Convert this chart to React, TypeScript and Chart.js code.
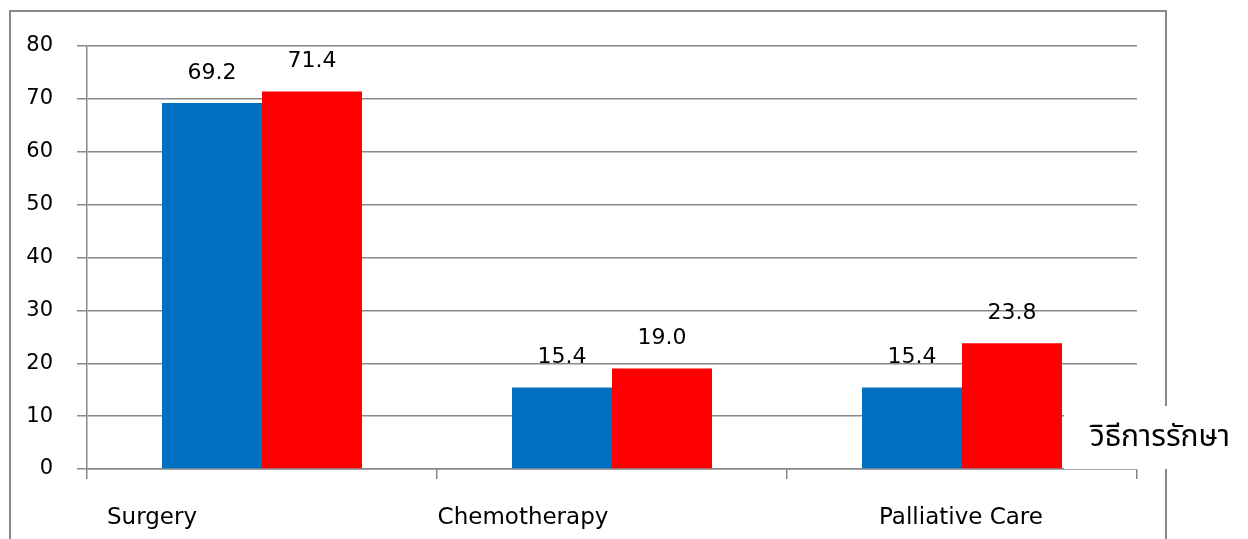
import React, { useEffect, useRef } from "react";
import { Chart, registerables } from "chart.js";

Chart.register(...registerables);

const categories = ["Surgery", "Chemotherapy", "Palliative Care"];
const seriesBlue = [69.2, 15.4, 15.4];
const seriesRed = [71.4, 19.0, 23.8];
const yTicks = [0, 10, 20, 30, 40, 50, 60, 70, 80];
const axisTitle = "วิธีการรักษา";

const FONT = "'DejaVu Sans', sans-serif";
const GRID = "#888888";

export default function App() {
  const ref = useRef<HTMLCanvasElement | null>(null);

  useEffect(() => {
    if (!ref.current) return;

    const labelShift = [-110, -89, -1];

    const decor = {
      id: "decor",
      afterDatasetsDraw(chart: any) {
        const ctx = chart.ctx;
        ctx.save();
        // value labels
        ctx.font = `22px ${FONT}`;
        ctx.fillStyle = "#000";
        ctx.textAlign = "center";
        ctx.textBaseline = "middle";
        chart.data.datasets.forEach((ds: any, di: number) => {
          const meta = chart.getDatasetMeta(di);
          meta.data.forEach((bar: any, i: number) => {
            ctx.fillText(Number(ds.data[i]).toFixed(1), bar.x, bar.y - 30);
          });
        });
        // category labels
        ctx.font = `23px ${FONT}`;
        ctx.textBaseline = "alphabetic";
        const xs = chart.scales.x;
        categories.forEach((c, i) => {
          ctx.fillText(c, xs.getPixelForValue(i) + labelShift[i], 524);
        });
        ctx.restore();
      },
      afterDraw(chart: any) {
        const ctx = chart.ctx;
        ctx.save();
        ctx.strokeStyle = GRID;
        ctx.lineWidth = 2;
        ctx.strokeRect(10, 11, 1156, 600);
        ctx.fillStyle = "#fff";
        ctx.fillRect(1064, 406, 184, 63);
        ctx.fillStyle = "#000";
        ctx.font = `30px 'Noto Sans Thai', 'Noto Sans', ${FONT}`;
        ctx.textAlign = "center";
        ctx.textBaseline = "middle";
        ctx.fillText(axisTitle, 1160, 440);
        ctx.restore();
      },
    };

    const chart = new Chart(ref.current, {
      type: "bar",
      data: {
        labels: categories,
        datasets: [
          { data: seriesBlue, backgroundColor: "#0070C0", categoryPercentage: 200 / 350, barPercentage: 1 },
          { data: seriesRed, backgroundColor: "#FF0000", categoryPercentage: 200 / 350, barPercentage: 1 },
        ],
      },
      options: {
        responsive: false,
        animation: false,
        layout: { padding: { top: 46, right: 111, left: 0, bottom: 0 } },
        plugins: { legend: { display: false }, tooltip: { enabled: false } },
        scales: {
          x: {
            grid: { offset: true, drawOnChartArea: false, drawTicks: true, tickLength: 10, color: GRID, lineWidth: 1.5 },
            border: { color: GRID, width: 1.5 },
            ticks: { display: false },
            afterFit(scale: any) {
              scale.height = 70;
            },
          },
          y: {
            min: 0,
            max: 80,
            afterBuildTicks(scale: any) {
              scale.ticks = yTicks.map((v) => ({ value: v }));
            },
            grid: { color: GRID, lineWidth: 1.5, tickLength: 10, drawTicks: true },
            border: { color: GRID, width: 1.5 },
            ticks: { padding: 24, color: "#000", font: { family: FONT, size: 21 } },
            afterFit(scale: any) {
              scale.width = 87;
            },
          },
        },
      },
      plugins: [decor],
    } as any);

    return () => chart.destroy();
  }, []);

  return (
    <div style={{ position: "fixed", left: 0, top: 0, width: 1248, height: 539, background: "#fff" }}>
      <canvas ref={ref} width={1248} height={539} style={{ display: "block" }} />
    </div>
  );
}
